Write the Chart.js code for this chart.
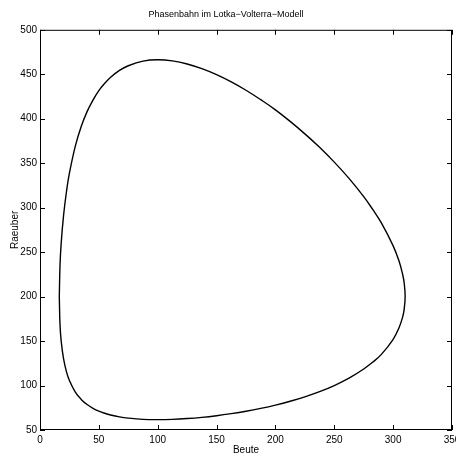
<!DOCTYPE html>
<html>
<head>
<meta charset="utf-8">
<script src="https://cdn.jsdelivr.net/npm/chart.js@4"></script>
<style>
html, body { margin: 0; padding: 0; background: #fff; }
</style>
</head>
<body>
<canvas id="Chart" width="456" height="456"></canvas>
<script>
// Phasenbahn: Beute (x) gegen Raeuber (y), Punkte aus dem Bild abgelesen
// oberer Ast von links nach rechts, dann unterer Ast zurueck
const beute = [16.4, 17, 18, 20, 22.5, 25, 30, 35, 40, 45, 50, 55, 60, 67.5, 75,
	87.5, 100, 112.5, 125, 137.5, 150, 162.5, 175, 187.5, 200,
	212.5, 225, 237.5, 250, 262.5, 275, 282.5, 290, 300, 305, 308, 309.4,
	310.2,
	309.3, 308, 305, 300, 290, 282.5, 275, 262.5, 250, 237.5, 225,
	212.5, 200, 187.5, 175, 162.5, 150, 137.5, 125, 112.5, 100, 87.5,
	75, 67.5, 60, 55, 50, 45, 40, 35, 30, 25, 22.5, 20, 18, 17, 16.4];
const raeuber = [200, 235.4, 260, 291, 318.2, 338.8, 369.2, 391.2, 408, 421.0, 431.6, 439.8, 446.6, 454.3, 459.6,
	464.8, 466.3, 465.0, 461.6, 456.3, 449.6, 441.4, 432, 421.4, 410,
	397, 383, 367.9, 351.2, 332.9, 312.4, 298.3, 282.8, 257, 240, 225.4, 215,
	200,
	185, 176.6, 165, 152, 135, 126.1, 118.6, 108.3, 100, 93.1, 87.3,
	82.3, 78, 74.3, 71.1, 68.4, 66.1, 64.25, 62.9, 62, 61.7, 62,
	63.4, 64.8, 66.9, 68.8, 71.2, 74.4, 78.6, 84.4, 92.6, 105.6, 115.4, 130.2, 150, 168.3, 200];

// Achsen
const xTicks = [0, 50, 100, 150, 200, 250, 300, 350];
const yTicks = [50, 100, 150, 200, 250, 300, 350, 400, 450, 500];

const titel = 'Phasenbahn im Lotka\u2212Volterra\u2212Modell';
const xTitel = 'Beute';
const yTitel = 'Raeuber';

const punkte = beute.map((b, i) => ({ x: b, y: raeuber[i] }));

const schrift = '"Liberation Sans", Arial, Helvetica, sans-serif';
Chart.defaults.color = '#000';
Chart.defaults.font.family = schrift;
Chart.defaults.font.size = 10;

// Rahmen und Striche nach innen (wie bei MATLAB)
const rahmen = {
	id: 'rahmen',
	afterDatasetsDraw(chart) {
		const { ctx, chartArea: a, scales: { x, y } } = chart;
		ctx.save();
		ctx.strokeStyle = '#000';
		ctx.lineWidth = 1;
		ctx.beginPath();
		xTicks.forEach(t => {
			const px = Math.round(x.getPixelForValue(t)) + 0.5;
			ctx.moveTo(px, a.bottom);
			ctx.lineTo(px, a.bottom - 5);
			ctx.moveTo(px, a.top);
			ctx.lineTo(px, a.top + 5);
		});
		yTicks.forEach(t => {
			const py = Math.round(y.getPixelForValue(t)) + 0.5;
			ctx.moveTo(a.left, py);
			ctx.lineTo(a.left + 5, py);
			ctx.moveTo(a.right, py);
			ctx.lineTo(a.right - 5, py);
		});
		ctx.stroke();
		ctx.strokeRect(a.left + 0.5, a.top + 0.5, a.right - a.left - 1, a.bottom - a.top - 1);
		ctx.restore();
	}
};

let ctx = document.getElementById('Chart');
let config = {
	type: 'scatter',
	data: {
		datasets: [{
			data: punkte,
			showLine: true,
			borderColor: '#000',
			borderWidth: 1.4,
			pointRadius: 0,
			tension: 0.4,
			fill: false
		}]
	},
	options: {
		responsive: false,
		animation: false,
		layout: { padding: { left: 0, right: 4, top: 0, bottom: 0 } },
		plugins: {
			legend: { display: false },
			tooltip: { enabled: false },
			title: {
				display: true,
				text: titel,
				font: { size: 9, weight: 'normal' },
				padding: { top: 9, bottom: 10 }
			}
		},
		scales: {
			x: {
				min: 0,
				max: 350,
				afterBuildTicks: s => { s.ticks = xTicks.map(v => ({ value: v })); },
				afterFit: s => { s.height = 26; s.paddingRight = 0; s.paddingLeft = 0; },
				grid: { display: false, drawTicks: false },
				border: { display: false },
				ticks: { padding: 4, maxRotation: 0, autoSkip: false },
				title: { display: true, text: xTitel, padding: { top: 0, bottom: 0 } }
			},
			y: {
				min: 50,
				max: 500,
				afterBuildTicks: s => { s.ticks = yTicks.map(v => ({ value: v })); },
				afterFit: s => { s.width = 40; },
				grid: { display: false, drawTicks: false },
				border: { display: false },
				ticks: { padding: 3, autoSkip: false },
				title: { display: true, text: yTitel, padding: { top: 9, bottom: 0 } }
			}
		}
	},
	plugins: [rahmen]
};
let chart = new Chart(ctx, config);
</script>
</body>
</html>
